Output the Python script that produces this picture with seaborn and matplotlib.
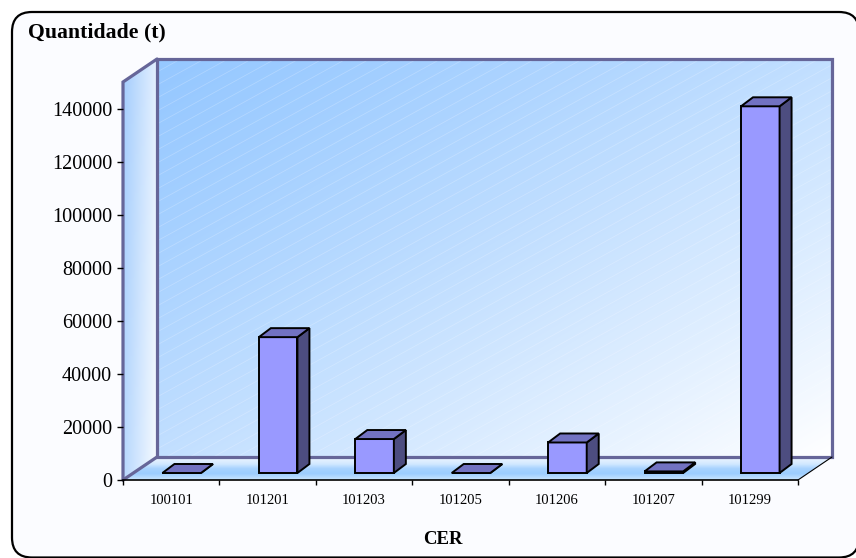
import numpy as np
import pandas as pd
import matplotlib
matplotlib.use("Agg")
import matplotlib.pyplot as plt
import seaborn as sns
from matplotlib.patches import Polygon, FancyBboxPatch
from matplotlib.transforms import ScaledTranslation
from matplotlib.colors import to_rgb

# ---- data -------------------------------------------------------------
cer_codes = ["100101", "101201", "101203", "101205", "101206", "101207", "101299"]
quantities = [0, 51200, 12800, 0, 11500, 600, 138200]
y_ticks = [0, 20000, 40000, 60000, 80000, 100000, 120000, 140000]
y_max = 150000
y_title = "Quantidade (t)"
x_title = "CER"

# ---- styling ----------------------------------------------------------
W, H, DPI = 856, 558, 100
FRONT = "#9999ff"
TOP = "#7272c2"
SIDE = "#4d4d80"
WALL_EDGE = "#666699"
WALL_DEPTH = (34.0, -23.0)   # pixel offset of the back wall (x right, y down)
BAR_SHIFT = (10.5, -7.0)     # bars sit part-way into the depth
BAR_DEPTH = (12.0, -9.0)     # depth of each bar

sns.set_theme(style="white")
plt.rcParams["font.family"] = ["Liberation Serif", "DejaVu Serif"]

fig = plt.figure(figsize=(W / DPI, H / DPI), dpi=DPI)
fig.patch.set_facecolor("white")

# full-figure canvas in pixel units, origin at top-left
canvas = fig.add_axes([0, 0, 1, 1], zorder=0)
canvas.set_xlim(0, W)
canvas.set_ylim(H, 0)
canvas.axis("off")

# overlay for the depth faces of the bars
overlay = fig.add_axes([0, 0, 1, 1], zorder=3)
overlay.set_xlim(0, W)
overlay.set_ylim(H, 0)
overlay.axis("off")
overlay.patch.set_alpha(0)

ax = fig.add_axes([123 / W, 78 / H, 675 / W, 398 / H], zorder=2)
ax.patch.set_alpha(0)

df = pd.DataFrame({"CER": cer_codes, "Quantidade": quantities})
sns.barplot(data=df, x="CER", y="Quantidade", ax=ax, width=0.4,
            color=FRONT, saturation=1, edgecolor="black", linewidth=1.4)
ax.set_xlim(-0.5, len(cer_codes) - 0.5)
ax.set_ylim(0, y_max)
ax.set_yticks(y_ticks)
ax.set_yticklabels([str(v) for v in y_ticks], fontsize=14.5)
ax.set_xlabel("")
ax.set_ylabel("")
for s in ("left", "top", "right"):
    ax.spines[s].set_visible(False)
ax.spines["bottom"].set_color("black")
ax.spines["bottom"].set_linewidth(1.2)
ax.tick_params(axis="y", direction="out", length=4.3, width=1.0, color="black",
               pad=3.5, left=True, labelcolor="black")
ax.tick_params(axis="x", which="major", length=0, pad=10, labelsize=10.5, labelcolor="black")
ax.set_xticks(np.arange(-0.5, len(cer_codes)), minor=True)
ax.tick_params(axis="x", which="minor", direction="out", length=3.6, width=1.0,
               color="black", bottom=True)


def to_px(x, y):
    d = ax.transData.transform((x, y))
    return np.array([d[0], H - d[1]])


def add(pt, off):
    return pt + np.array(off)


# ---- frame ------------------------------------------------------------
frame = FancyBboxPatch((12, 12), 847, 545.5, boxstyle="round,pad=0,rounding_size=20",
                       facecolor="#fbfcff", edgecolor="black", linewidth=1.6, zorder=0)
canvas.add_patch(frame)

# ---- walls ------------------------------------------------------------
n_cat = len(cer_codes)
f_bl = to_px(-0.5, 0)
f_br = to_px(n_cat - 0.5, 0)
f_tl = to_px(-0.5, y_max)
b_bl = add(f_bl, WALL_DEPTH)
b_br = add(f_br, WALL_DEPTH)
b_tl = add(f_tl, WALL_DEPTH)
b_tr = np.array([b_br[0], b_tl[1]])


def blend(c0, c1, t):
    c0 = np.array(to_rgb(c0))
    c1 = np.array(to_rgb(c1))
    return c0[None, None, :] * (1 - t[..., None]) + c1[None, None, :] * t[..., None]


def clip_poly(pts):
    clip = Polygon(pts, closed=True, facecolor="none", edgecolor="none",
                   transform=canvas.transData)
    canvas.add_patch(clip)
    return clip


def gradient(img, pts, z):
    clip = clip_poly(pts)
    xs = [p[0] for p in pts]
    ys = [p[1] for p in pts]
    im = canvas.imshow(img, extent=(min(xs), max(xs), max(ys), min(ys)),
                       origin="upper", aspect="auto", interpolation="bilinear", zorder=z)
    im.set_clip_path(clip)
    return clip


# back wall: diagonal blue-to-white
u = np.linspace(0, 1, 300)[None, :]
v = np.linspace(0, 1, 200)[:, None]
t = ((u + v) / 2) ** 1.25
wall_clip = gradient(blend("#96c8ff", "#ffffff", t), [b_tl, b_tr, b_br, b_bl], 1)

# faint diagonal texture on the back wall
slope = 0.55
for c in np.arange(b_tl[1], b_br[1] + slope * (b_br[0] - b_tl[0]) + 13, 13):
    xs = np.array([b_tl[0], b_br[0]])
    ys = c - slope * (xs - b_tl[0])
    ln, = canvas.plot(xs, ys, color="white", lw=0.6, alpha=0.22, zorder=1.1)
    ln.set_clip_path(wall_clip)

# floor: horizontal bands
fv = np.linspace(0, 1, 60)
stops = [0, 0.3, 0.5, 0.72, 1.0]
cols = [to_rgb(c) for c in ["#eef6ff", "#d2e9ff", "#a8d3ff", "#9ccdfe", "#cae5ff"]]
floor_col = np.stack([np.interp(fv, stops, [c[k] for c in cols]) for k in range(3)], axis=-1)
floor_img = np.repeat(floor_col[:, None, :], 10, axis=1)
gradient(floor_img, [f_bl, f_br, b_br, b_bl], 1)

# left side wall
lu = np.linspace(0, 1, 40)[None, :]
lv = np.linspace(0, 1, 100)[:, None]
lt = np.clip(lu * 0.8 + lv * 0.25, 0, 1)
gradient(blend("#a4cdfd", "#f2f8ff", lt), [f_tl, b_tl, b_bl, f_bl], 1)

# wall outlines
canvas.plot([b_tl[0], b_tr[0], b_br[0], b_bl[0], b_tl[0]],
            [b_tl[1], b_tr[1], b_br[1], b_bl[1], b_tl[1]],
            color=WALL_EDGE, lw=2.3, solid_joinstyle="miter", zorder=2)
canvas.plot([f_bl[0], f_tl[0], b_tl[0]], [f_bl[1], f_tl[1], b_tl[1]],
            color=WALL_EDGE, lw=2.3, solid_joinstyle="miter", zorder=2)
canvas.plot([f_bl[0], b_bl[0]], [f_bl[1], b_bl[1]],
            color=WALL_EDGE, lw=2.3, zorder=2)
canvas.plot([f_br[0], b_br[0]], [f_br[1], b_br[1]], color="black", lw=0.8, zorder=2)

# ---- bars: shift front faces, add top and side faces --------------------
shift = ScaledTranslation(BAR_SHIFT[0] / DPI, -BAR_SHIFT[1] / DPI, fig.dpi_scale_trans)
for p in ax.patches:
    p.set_transform(ax.transData + shift)
    p.set_clip_on(False)
    p.set_joinstyle("miter")
    x0 = p.get_x()
    x1 = x0 + p.get_width()
    h = p.get_height()
    fl_t = add(to_px(x0, h), BAR_SHIFT)
    fr_t = add(to_px(x1, h), BAR_SHIFT)
    fr_b = add(to_px(x1, 0), BAR_SHIFT)
    top = Polygon([fl_t, fr_t, add(fr_t, BAR_DEPTH), add(fl_t, BAR_DEPTH)], closed=True,
                  facecolor=TOP, edgecolor="black", linewidth=1.4, joinstyle="miter")
    side = Polygon([fr_b, fr_t, add(fr_t, BAR_DEPTH), add(fr_b, BAR_DEPTH)], closed=True,
                   facecolor=SIDE, edgecolor="black", linewidth=1.4, joinstyle="miter")
    overlay.add_patch(side)
    overlay.add_patch(top)

# ---- titles -----------------------------------------------------------
canvas.text(28, 32, y_title, fontsize=15.7, fontweight="bold", ha="left", va="center",
            color="black", zorder=5)
canvas.text(443, 540, x_title, fontsize=13.5, fontweight="bold", ha="center", va="center",
            color="black", zorder=5)

canvas.set_xlim(0, W)
canvas.set_ylim(H, 0)

fig.savefig("out.png", dpi=DPI)
